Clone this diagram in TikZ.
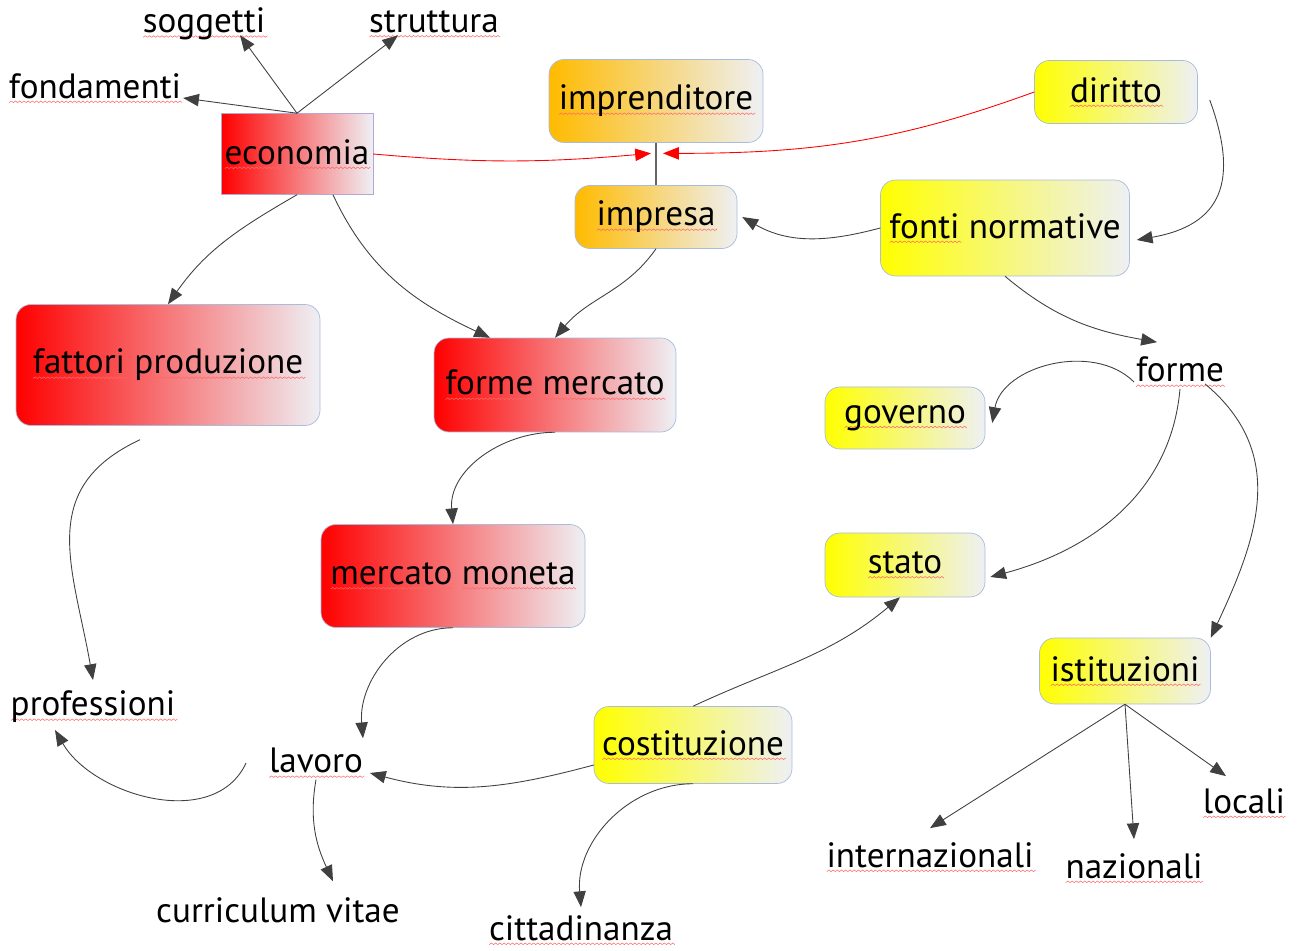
\documentclass[tikz,border=0pt]{standalone}
\usepackage{fontspec}
\setmainfont{PT Sans}
\usetikzlibrary{arrows.meta}

\definecolor{boxend}{HTML}{EEF0F4}
\definecolor{boxline}{HTML}{A9BCDB}
\definecolor{ecoline}{HTML}{B4A7D6}
\definecolor{gold}{HTML}{FFBB00}
\definecolor{linkgray}{HTML}{404040}

% red wavy spell-check underline
\newcount\wavyk
\newdimen\wavyx
\newdimen\wavyw
\newcommand\wavy[1]{\leavevmode\setbox0=\hbox{#1}\wavyw=\wd0\relax
  \rlap{\pgfpicture\pgftransformreset\pgfsetcornersarced{\pgfpointorigin}%
    \pgfsetlinewidth{0.3pt}\pgfsetstrokecolor{red!60}%
    \wavyk=0 \wavyx=0pt
    \pgfpathmoveto{\pgfqpoint{0pt}{-2.6pt}}%
    \loop
      \advance\wavyk by 1
      \advance\wavyx by 1.2pt
      \ifodd\wavyk \pgfpathlineto{\pgfqpoint{\wavyx}{-1.7pt}}\else \pgfpathlineto{\pgfqpoint{\wavyx}{-2.6pt}}\fi
    \ifdim\wavyx<\wavyw \repeat
    \pgfusepath{stroke}\pgfsetbaseline{0pt}\endpgfpicture}\box0\relax}

\begin{document}
\begin{tikzpicture}[
    x=0.02cm, y=0.02cm,
    font=\fontsize{20}{23}\selectfont,
    word/.style={inner sep=1pt},
    concept/.style={draw=boxline, rounded corners=0.3cm, inner sep=2pt},
    redbox/.style={concept, left color=red, right color=boxend},
    goldbox/.style={concept, left color=gold, right color=boxend},
    yellowbox/.style={concept, left color=yellow, right color=boxend},
    link/.style={draw=linkgray, line width=0.5pt, -{Triangle[length=9pt,width=7pt]}},
    redlink/.style={draw=red, line width=0.5pt, red, -{Triangle[length=9pt,width=7pt]}},
    plain/.style={draw=linkgray!80, line width=0.6pt}
]
    \useasboundingbox (0,0) rectangle (1298,950);

    % economia
    \node[redbox, sharp corners, draw=ecoline, minimum width=2.84cm, minimum height=1.62cm] (economia) at (297,796) {\wavy{economia}};
    \node[word] (soggetti) at (204,926) {\wavy{soggetti}};
    \node[word] (struttura) at (434,926) {\wavy{struttura}};
    \node[word] (fondamenti) at (95,862) {\wavy{fondamenti}};
    \node[redbox, minimum width=6.08cm, minimum height=2.42cm] (fattori) at (168,585) {\wavy{fattori} \wavy{produzione}};
    \node[redbox, minimum width=4.84cm, minimum height=1.88cm] (formemercato) at (555,565) {\wavy{forme} \wavy{mercato}};
    \node[redbox, minimum width=5.28cm, minimum height=2.06cm] (moneta) at (453,374) {\wavy{mercato} \wavy{moneta}};

    % impresa
    \node[goldbox, minimum width=4.28cm, minimum height=1.66cm] (imprenditore) at (656,849) {\wavy{imprenditore}};
    \node[goldbox, minimum width=3.24cm, minimum height=1.26cm] (impresa) at (656,733) {\wavy{impresa}};

    % diritto
    \node[yellowbox, minimum width=3.26cm, minimum height=1.26cm] (diritto) at (1116,858) {\wavy{diritto}};
    \node[yellowbox, minimum width=4.98cm, minimum height=1.92cm] (fonti) at (1005,722) {\wavy{fonti} normative};
    \node[word] (forme) at (1180,578) {\wavy{forme}};
    \node[yellowbox, minimum width=3.2cm, minimum height=1.24cm] (governo) at (905,532) {\wavy{governo}};
    \node[yellowbox, minimum width=3.2cm, minimum height=1.28cm] (stato) at (905,385) {\wavy{stato}};
    \node[yellowbox, minimum width=3.42cm, minimum height=1.32cm] (istituzioni) at (1125,279) {\wavy{istituzioni}};
    \node[yellowbox, minimum width=3.96cm, minimum height=1.54cm] (costituzione) at (693,205) {\wavy{costituzione}};
    \node[word] (internazionali) at (930,93) {\wavy{internazionali}};
    \node[word] (nazionali) at (1134,82) {\wavy{nazionali}};
    \node[word] (locali) at (1244,147) {\wavy{locali}};

    % lavoro
    \node[word] (professioni) at (93,243) {\wavy{professioni}};
    \node[word] (lavoro) at (316,187) {\wavy{lavoro}};
    \node[word] (curriculum) at (278,40) {curriculum vitae};
    \node[word] (cittadinanza) at (581,20) {\wavy{cittadinanza}};

    \draw[link] (economia.north) -- ([xshift=0.72cm,yshift=0.14cm]soggetti.south);
    \draw[link] (economia.north) -- ([xshift=-0.72cm,yshift=0.08cm]struttura.south);
    \draw[link] (economia.north) -- ([yshift=-0.2cm]fondamenti.east);

    \draw[plain] (imprenditore) -- (impresa);
    \path (imprenditore.south) -- (impresa.north) coordinate[pos=0.25] (rel);
    \draw[redlink] (economia.east) to[out=-5,in=185] ([xshift=-0.1cm]rel);
    \draw[redlink] (diritto.west) to[out=200,in=0] ([xshift=0.14cm]rel);

    \draw[link] ([xshift=0.24cm,yshift=-0.16cm]diritto.east) to[out=-70,in=10,looseness=1.4] ([xshift=0.14cm,yshift=-0.24cm]fonti.east);
    \draw[link] (fonti.west) to[out=195,in=-30] ([xshift=0.1cm]impresa.east);
    \draw[link] (fonti.south) to[out=-40,in=170] ([xshift=-0.46cm,yshift=0.26cm]forme.north);
    \draw[link] ([yshift=-0.2cm]forme.west) to[out=135,in=80] ([xshift=0.14cm,yshift=-0.1cm]governo.east);
    \draw[link] (forme.south) to[out=-95,in=15] ([xshift=0.1cm,yshift=-0.24cm]stato.east);
    \draw[link] ([xshift=0.5cm,yshift=0.1cm]forme.south) to[out=-40,in=65,looseness=1.1] (istituzioni.north east);

    \draw[link] (istituzioni.south) -- ([yshift=0.24cm]internazionali.north);
    \draw[link] (istituzioni.south) -- ([yshift=0.24cm]nazionali.north);
    \draw[link] (istituzioni.south) -- ([xshift=-0.36cm,yshift=0.2cm]locali.north);

    \draw[link] (costituzione.north) to[out=25,in=-140] ([xshift=-0.1cm]stato.south);
    \draw[link] ([yshift=-0.4cm]costituzione.west) to[out=195,in=-15] ([xshift=0.1cm,yshift=-0.2cm]lavoro.east);
    \draw[link] (costituzione.south) to[out=180,in=95] ([yshift=0.12cm]cittadinanza.north);

    \draw[link] (lavoro.south) to[out=-100,in=115] ([xshift=1.1cm,yshift=0.28cm]curriculum.north);
    \draw[link] ([xshift=-0.42cm]lavoro.west) to[out=-115,in=-60] ([xshift=-0.76cm,yshift=-0.1cm]professioni.south);
    \draw[link] (moneta.south) to[out=180,in=95] ([xshift=0.94cm,yshift=0.16cm]lavoro.north);
    \draw[link] ([xshift=-0.56cm,yshift=-0.28cm]fattori.south) to[out=205,in=100,looseness=1.2] ([yshift=0.18cm]professioni.north);

    \draw[link] (economia.south) to[out=210,in=55] (fattori.north);
    \draw[link] ([xshift=0.72cm]economia.south) to[out=-65,in=155] ([xshift=-1.3cm]formemercato.north);
    \draw[link] (impresa.south) to[out=-125,in=50] (formemercato.north);
    \draw[link] (formemercato.south) to[out=180,in=95] (moneta.north);
\end{tikzpicture}
\end{document}
